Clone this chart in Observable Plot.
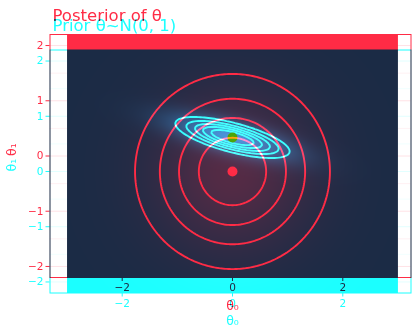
<!DOCTYPE html>
<html><head><meta charset="utf-8">
<script src="https://cdn.jsdelivr.net/npm/d3@7"></script>
<script src="https://cdn.jsdelivr.net/npm/@observablehq/plot@0.6"></script>
<style>
html,body{margin:0;padding:0;background:#fff;}
#wrap{position:relative;width:412px;height:332px;overflow:hidden;isolation:isolate;background:#fff;}
.layer{position:absolute;left:0;top:0;width:412px;height:332px;background:#fff;}
#red{mix-blend-mode:multiply;}
.layer svg{display:block;background:#fff;}
</style></head>
<body><div id="wrap"><div class="layer" id="cyan"></div><div class="layer" id="red"></div></div>
<script>
// ---- data ----
const xTicks = [-2, 0, 2];
const yTicks = [-2, -1, 0, 1, 2];
const yMinorGrid = [-1.5, -0.5, 0.5, 1.5];
const xDomain = [-3.309, 3.237];
const yDomain = [-2.2, 2.2];
const rasterX = [-3, 3];
const rasterY = [-2.2, 2.2];

// prior θ ~ N(0, I)
const priorMean = [0, 0];
const priorSd = [1, 1];
const priorLevels = [0.21, 0.42, 0.625, 0.83];   // relative density of contour lines
// posterior of θ
const postMean = [0, 0.335];
const postSd = [0.596, 0.147];
const postAngleDeg = -14.6;
const postLevels = [0.2, 0.35, 0.5, 0.65, 0.8];

const titleRed = "Posterior of θ";
const titleCyan = "Prior θ~N(0, 1)";
const xLabel = "θ₀";
const yLabel = "θ₁";

// ---- densities (relative, peak = 1) ----
function gauss(mean, sd, angleDeg) {
  const a = angleDeg * Math.PI / 180, c = Math.cos(a), s = Math.sin(a);
  return (x, y) => {
    const dx = x - mean[0], dy = y - mean[1];
    const u = dx * c + dy * s, v = -dx * s + dy * c;
    return Math.exp(-0.5 * ((u / sd[0]) ** 2 + (v / sd[1]) ** 2));
  };
}
const priorDensity = gauss(priorMean, priorSd, 0);
const postDensity = gauss(postMean, postSd, postAngleDeg);

const FONT = "DejaVu Sans, sans-serif";
const fmt = d3.format("d");

function layer(o) {
  const panelH = 243;
  return Plot.plot({
    width: 412, height: 332,
    marginLeft: 49.5, marginRight: 1.5, marginTop: o.top, marginBottom: 332 - o.top - panelH,
    x: {domain: xDomain},
    y: {domain: yDomain},
    color: {type: "pow", exponent: o.exponent, domain: [0, 1], range: [o.ink, o.peak], interpolate: "rgb"},
    style: {fontFamily: FONT, fontSize: "10.5px", color: o.ink, background: "#fff"},
    marks: [
      Plot.ruleY(yTicks, {stroke: o.grid, strokeWidth: 1}),
      Plot.ruleY(yMinorGrid, {stroke: o.grid, strokeWidth: 0.5}),
      Plot.raster({fill: o.density, x1: rasterX[0], x2: rasterX[1], y1: rasterY[0], y2: rasterY[1], pixelSize: 1}),
      Plot.contour({value: o.density, x1: rasterX[0], x2: rasterX[1], y1: rasterY[0], y2: rasterY[1],
        thresholds: o.levels, stroke: "white", fill: "none", strokeWidth: 1.9}),
      Plot.dot([o.point], {x: d => d[0], y: d => d[1], r: 5, fill: o.pointColor, stroke: "none"}),
      Plot.frame({stroke: o.ink, strokeWidth: 1}),
      Plot.axisX({ticks: xTicks, tickFormat: fmt, tickSize: 4, tickPadding: 2.5, label: null, stroke: o.ink, fill: o.ink}),
      Plot.axisY({ticks: yTicks, tickFormat: fmt, tickSize: 4, tickPadding: 2.5, label: null, stroke: o.ink, fill: o.ink}),
      Plot.text([xLabel], {x: 0, frameAnchor: "bottom", dy: 28, text: d => d, fill: o.ink, fontSize: 12.5, lineAnchor: "middle"}),
      Plot.text([yLabel], {y: 0, frameAnchor: "left", dx: -38, rotate: -90, text: d => d, fill: o.ink, fontSize: 12.5, lineAnchor: "middle"}),
      Plot.text([o.title], {frameAnchor: "top-left", dx: 2.5, dy: o.titleDy, text: d => d, fill: o.ink, fontSize: 16.5, textAnchor: "start", lineAnchor: "top"})
    ]
  });
}

document.getElementById("cyan").append(layer({
  top: 49.5, ink: "rgb(27,255,255)", peak: "rgb(85,255,255)", grid: "rgb(226,255,255)", exponent: 1,
  density: priorDensity, levels: priorLevels, point: priorMean, pointColor: "white",
  title: titleCyan, titleDy: -31
}));
document.getElementById("red").append(layer({
  top: 34, ink: "rgb(255,43,69)", peak: "rgb(255,150,220)", grid: "rgb(255,226,230)", exponent: 0.6,
  density: postDensity, levels: postLevels, point: postMean, pointColor: "rgb(255,165,10)",
  title: titleRed, titleDy: -25.5
}));
</script>
</body></html>
